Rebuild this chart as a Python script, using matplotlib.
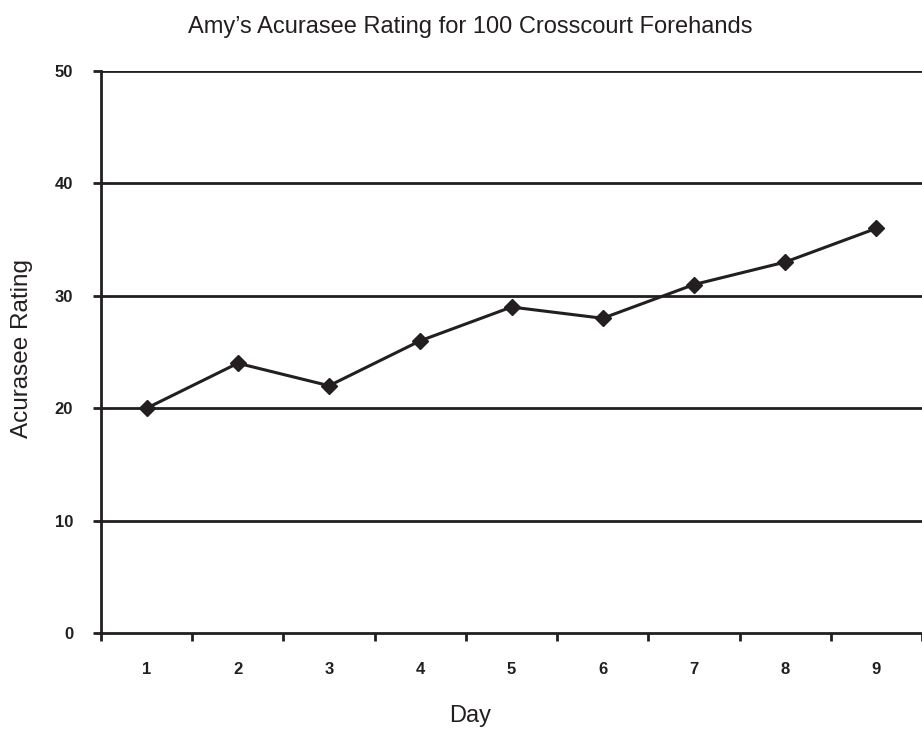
import numpy as np
import matplotlib
matplotlib.use("Agg")
import matplotlib.pyplot as plt

# Data
days = ["1", "2", "3", "4", "5", "6", "7", "8", "9"]
rating = [20, 24, 22, 26, 29, 28, 31, 33, 36]
y_ticks = [0, 10, 20, 30, 40, 50]

dark = "#231f20"
plt.rcParams["font.family"] = ["Liberation Sans", "DejaVu Sans"]

W, H = 922, 733
fig = plt.figure(figsize=(W / 100, H / 100), dpi=100)
ax = fig.add_axes([101 / W, 100 / H, 821 / W, 562 / H])

x = np.arange(len(days))
ax.plot(x, rating, color=dark, linewidth=2.2, marker="D", markersize=8.5,
        markerfacecolor=dark, markeredgecolor=dark, zorder=3)

# Horizontal gridlines
for v in y_ticks[1:]:
    ax.axhline(v, color=dark, linewidth=2, zorder=1)

ax.set_xlim(-0.5, len(days) - 0.5)
ax.set_ylim(0, 50)

# Category labels centred, ticks on the boundaries
ax.set_xticks(np.arange(-0.5, len(days), 1.0))
ax.set_xticklabels([])
ax.set_xticks(x, minor=True)
ax.set_xticklabels(days, minor=True, fontsize=12, fontweight="bold", color=dark)
ax.tick_params(axis="x", which="minor", length=0, pad=21)
ax.tick_params(axis="x", which="major", length=6, width=2, color=dark, direction="out")

ax.set_yticks(y_ticks)
ax.set_yticklabels([str(v) for v in y_ticks], fontsize=12, fontweight="bold", color=dark)
ax.tick_params(axis="y", length=6, width=2, color=dark, direction="out", pad=14)

for side in ["top", "right"]:
    ax.spines[side].set_visible(False)
for side in ["left", "bottom"]:
    ax.spines[side].set_color(dark)
    ax.spines[side].set_linewidth(2)

# Titles placed in figure pixels
fig.text(470 / W, 1 - 27 / H, "Amy\u2019s Acurasee Rating for 100 Crosscourt Forehands",
         ha="center", va="center", fontsize=17, color=dark)
fig.text(470 / W, 1 - 716 / H, "Day", ha="center", va="center", fontsize=17, color=dark)
fig.text(22 / W, 1 - 348 / H, "Acurasee Rating", ha="center", va="center",
         rotation=90, fontsize=17.5, color=dark)

fig.savefig("out.png", dpi=100)
